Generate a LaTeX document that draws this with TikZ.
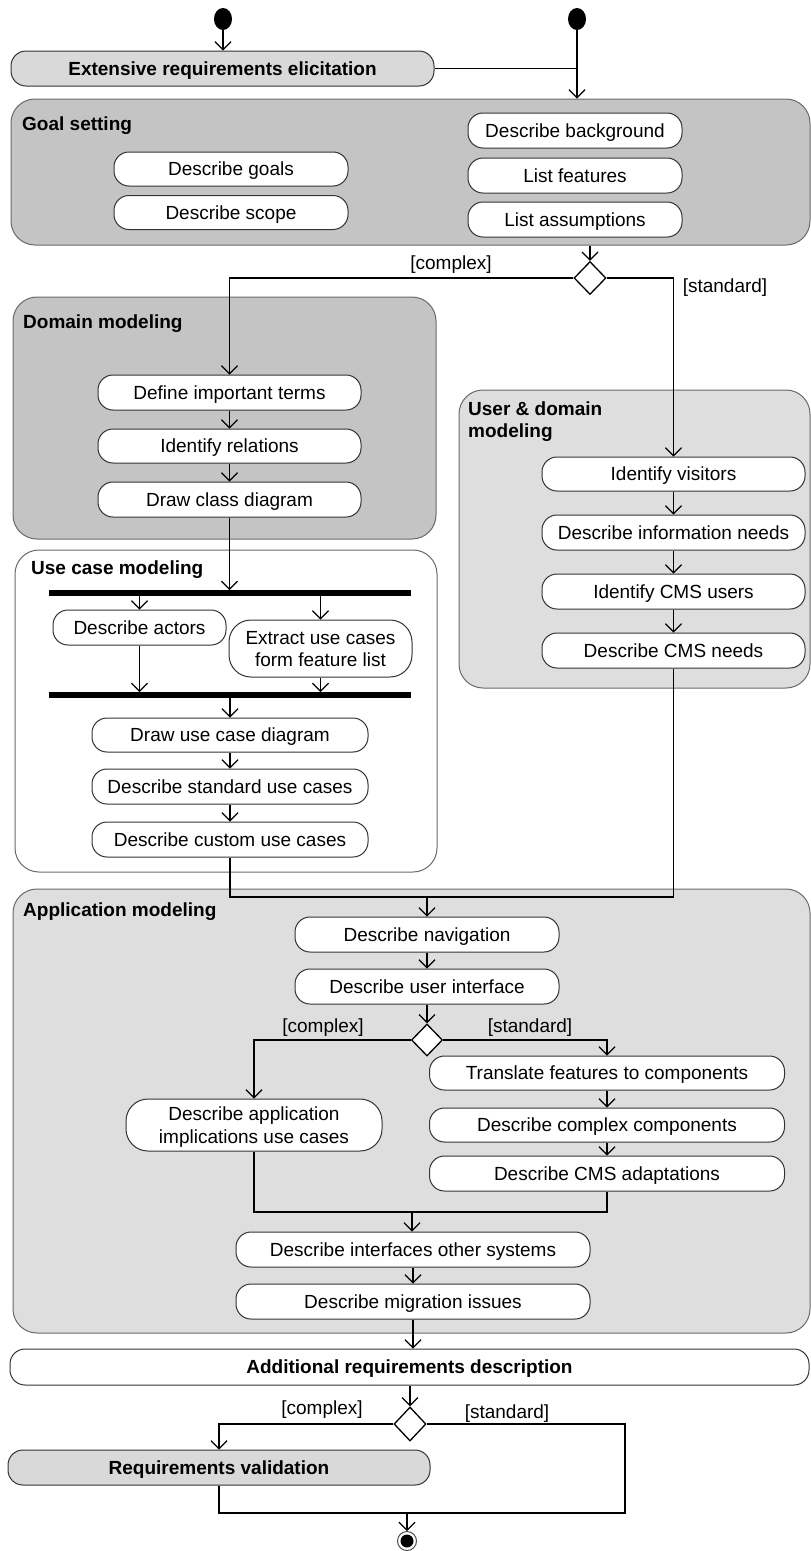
\documentclass[tikz,border=0pt]{standalone}
\usepackage{fontspec}
\setmainfont{Liberation Sans}
\usetikzlibrary{arrows.meta,shapes.geometric}
\definecolor{darkpanel}{HTML}{C4C4C4}
\definecolor{lightpanel}{HTML}{DEDEDE}
\definecolor{phasefill}{HTML}{D9D9D9}
\definecolor{rim}{HTML}{6A6A6A}
\newcommand{\txt}{\fontsize{19}{22.5}\selectfont}
\tikzset{
  act/.style={draw=black!80, fill=white, rounded corners=15pt, line width=1pt,
    inner sep=0pt, align=center, font=\txt, text height=13.6pt, text depth=0pt},
  twoline/.style={text height=36.1pt, rounded corners=22pt},
  phase/.style={act, fill=phasefill, font=\txt\bfseries},
  panel/.style={draw=rim, rounded corners=24pt, line width=1pt, inner sep=0pt},
  paneltitle/.style={anchor=west, align=left, inner sep=0pt, font=\txt\bfseries},
  guard/.style={inner sep=0pt, font=\txt},
  flow/.style={line width=1.4pt, -{Straight Barb[length=8pt,width=16pt,line width=1.2pt]}},
  link/.style={line width=1.4pt},
  syncbar/.style={fill=black, inner sep=0pt, minimum height=5.5pt},
  decision/.style={diamond, draw, fill=white, line width=1.3pt, inner sep=0pt},
  startdot/.style={ellipse, fill=black, inner sep=0pt, minimum width=18pt, minimum height=22pt}
}
\begin{document}
\begin{tikzpicture}[x=1pt, y=-1pt]
\useasboundingbox (0,0) rectangle (811,1551);

% ---------- containers ----------
\node[panel, fill=darkpanel, minimum width=799pt, minimum height=146pt] (goal) at (410.5,172) {};
\node[panel, fill=darkpanel, minimum width=423pt, minimum height=242pt] (domain) at (224.5,418) {};
\node[panel, fill=lightpanel, minimum width=351pt, minimum height=298pt] (user) at (634.5,539) {};
\node[panel, fill=white, minimum width=422pt, minimum height=322pt] (usecase) at (226,711) {};
\node[panel, fill=lightpanel, minimum width=797pt, minimum height=444pt] (app) at (411.5,1111) {};

\node[paneltitle] (goalT) at (22,126) {Goal setting};
\node[paneltitle] (domainT) at (23,324) {Domain modeling};
\node[paneltitle] (userT) at (468,421.5) {User \& domain\\modeling};
\node[paneltitle] (usecaseT) at (31,570) {Use case modeling};
\node[paneltitle] (appT) at (23,912) {Application modeling};

% ---------- start ----------
\node[startdot] (s1) at (223,19) {};
\node[startdot] (s2) at (577,19) {};
\node[phase, minimum width=423pt, minimum height=35pt] (ext) at (222.5,68.5) {Extensive requirements elicitation};

% ---------- goal setting ----------
\node[act, minimum width=214pt, minimum height=35pt] (bg) at (575,130.5) {Describe background};
\node[act, minimum width=214pt, minimum height=35pt] (lf) at (575,175.5) {List features};
\node[act, minimum width=214pt, minimum height=35pt] (la) at (575,219.5) {List assumptions};
\node[act, minimum width=234pt, minimum height=34pt] (dg) at (231,169) {Describe goals};
\node[act, minimum width=234pt, minimum height=34pt] (ds) at (231,212.5) {Describe scope};

\node[decision, minimum width=32pt, minimum height=33pt] (d1) at (590,278) {};
\node[guard] (g1c) at (451,265) {[complex]};
\node[guard] (g1s) at (725,288) {[standard]};

% ---------- domain modeling ----------
\node[act, minimum width=263pt, minimum height=35pt] (dit) at (229.5,392.5) {Define important terms};
\node[act, minimum width=263pt, minimum height=34pt] (ir) at (229.5,446) {Identify relations};
\node[act, minimum width=263pt, minimum height=35pt] (dcd) at (229.5,499.5) {Draw class diagram};

% ---------- user & domain modeling ----------
\node[act, minimum width=263pt, minimum height=34pt] (iv) at (673.5,474) {Identify visitors};
\node[act, minimum width=263pt, minimum height=35pt] (din) at (673.5,532.5) {Describe information needs};
\node[act, minimum width=263pt, minimum height=35pt] (icu) at (673.5,591.5) {Identify CMS users};
\node[act, minimum width=263pt, minimum height=35pt] (dcn) at (673.5,650.5) {Describe CMS needs};

% ---------- use case modeling ----------
\node[syncbar, minimum width=362pt] (bar1) at (230,593) {};
\node[act, minimum width=173pt, minimum height=35pt] (da) at (139.5,627.5) {Describe actors};
\node[act, twoline, minimum width=183pt, minimum height=57pt] (ex) at (320.5,648.5) {Extract use cases\\form feature list};
\node[syncbar, minimum width=362pt] (bar2) at (230,695) {};
\node[act, minimum width=276pt, minimum height=34pt] (ducd) at (230,735) {Draw use case diagram};
\node[act, minimum width=276pt, minimum height=35pt] (dsuc) at (230,786.5) {Describe standard use cases};
\node[act, minimum width=276pt, minimum height=35pt] (dcuc) at (230,839.5) {Describe custom use cases};

% ---------- application modeling ----------
\coordinate (m1) at (427,897);
\node[act, minimum width=264pt, minimum height=35pt] (dn) at (427,934.5) {Describe navigation};
\node[act, minimum width=264pt, minimum height=35pt] (dui) at (427,986.5) {Describe user interface};
\node[decision, minimum width=31pt, minimum height=32pt] (d2) at (427,1040) {};
\node[guard] (g2c) at (323,1028) {[complex]};
\node[guard] (g2s) at (530,1028) {[standard]};
\node[act, minimum width=355pt, minimum height=34pt] (tf) at (607,1073) {Translate features to components};
\node[act, minimum width=355pt, minimum height=34pt] (dcc) at (607,1125) {Describe complex components};
\node[act, minimum width=355pt, minimum height=35pt] (dcma) at (607,1173.5) {Describe CMS adaptations};
\node[act, twoline, minimum width=256pt, minimum height=52pt] (dai) at (254,1125) {Describe application\\implications use cases};
\coordinate (m2) at (412,1212);
\node[act, minimum width=354pt, minimum height=35pt] (dios) at (413,1249.5) {Describe interfaces other systems};
\node[act, minimum width=354pt, minimum height=35pt] (dmi) at (413,1301.5) {Describe migration issues};

% ---------- closing ----------
\node[act, minimum width=799pt, minimum height=36pt, font=\txt\bfseries] (add) at (409.5,1367) {Additional requirements description};
\node[decision, minimum width=32pt, minimum height=34pt] (d3) at (410,1424) {};
\node[guard] (g3c) at (322,1410) {[complex]};
\node[guard] (g3s) at (507,1414) {[standard]};
\node[phase, minimum width=422pt, minimum height=35pt] (rv) at (219,1467.5) {Requirements validation};
\coordinate (c3) at (625,1513);
\coordinate (m3) at (407,1513);
\node[circle, draw=black!70, fill=white, line width=1pt, minimum size=19pt, inner sep=0pt] (fin) at (407,1541) {};
\fill (fin.center) circle (6.5pt);

% ---------- connectors ----------
\draw[flow] (s1) -- (ext.north -| s1);
\draw[flow] (s2) -- (s2 |- goal.north);
\draw[link] (ext.east) -- (ext.east -| s2);
\draw[flow] (d1 |- goal.south) -- (d1.north);
\draw[flow] (d1.west) -| (dit.north);
\draw[flow] (d1.east) -| (iv.north);

\draw[flow] (dit) -- (ir);
\draw[flow] (ir) -- (dcd);
\draw[flow] (dcd.south) -- (dcd.south |- bar1.north);
\draw[flow] (da.north |- bar1.south) -- (da.north);
\draw[flow] (ex.north |- bar1.south) -- (ex.north);
\draw[flow] (da.south) -- (da.south |- bar2.north);
\draw[flow] (ex.south) -- (ex.south |- bar2.north);
\draw[flow] (ducd.north |- bar2.south) -- (ducd.north);
\draw[flow] (ducd) -- (dsuc);
\draw[flow] (dsuc) -- (dcuc);

\draw[flow] (iv) -- (din);
\draw[flow] (din) -- (icu);
\draw[flow] (icu) -- (dcn);

\draw[link] (dcuc.south) |- (m1) -| (dcn.south);
\draw[flow] (m1) -- (dn.north);
\draw[flow] (dn) -- (dui);
\draw[flow] (dui) -- (d2.north);
\draw[flow] (d2.west) -| (dai.north);
\draw[flow] (d2.east) -| (tf.north);
\draw[flow] (tf) -- (dcc);
\draw[flow] (dcc) -- (dcma);
\draw[link] (dai.south) |- (m2) -| (dcma.south);
\draw[flow] (m2) -- (m2 |- dios.north);
\draw[flow] (dios) -- (dmi);
\draw[flow] (dmi.south) -- (dmi.south |- add.north);
\draw[flow] (d3 |- add.south) -- (d3.north);
\draw[flow] (d3.west) -| (rv.north);
\draw[link] (d3.east) -| (c3) -- (m3);
\draw[link] (rv.south) |- (m3);
\draw[flow] (m3) -- (fin.north);
\end{tikzpicture}
\end{document}
